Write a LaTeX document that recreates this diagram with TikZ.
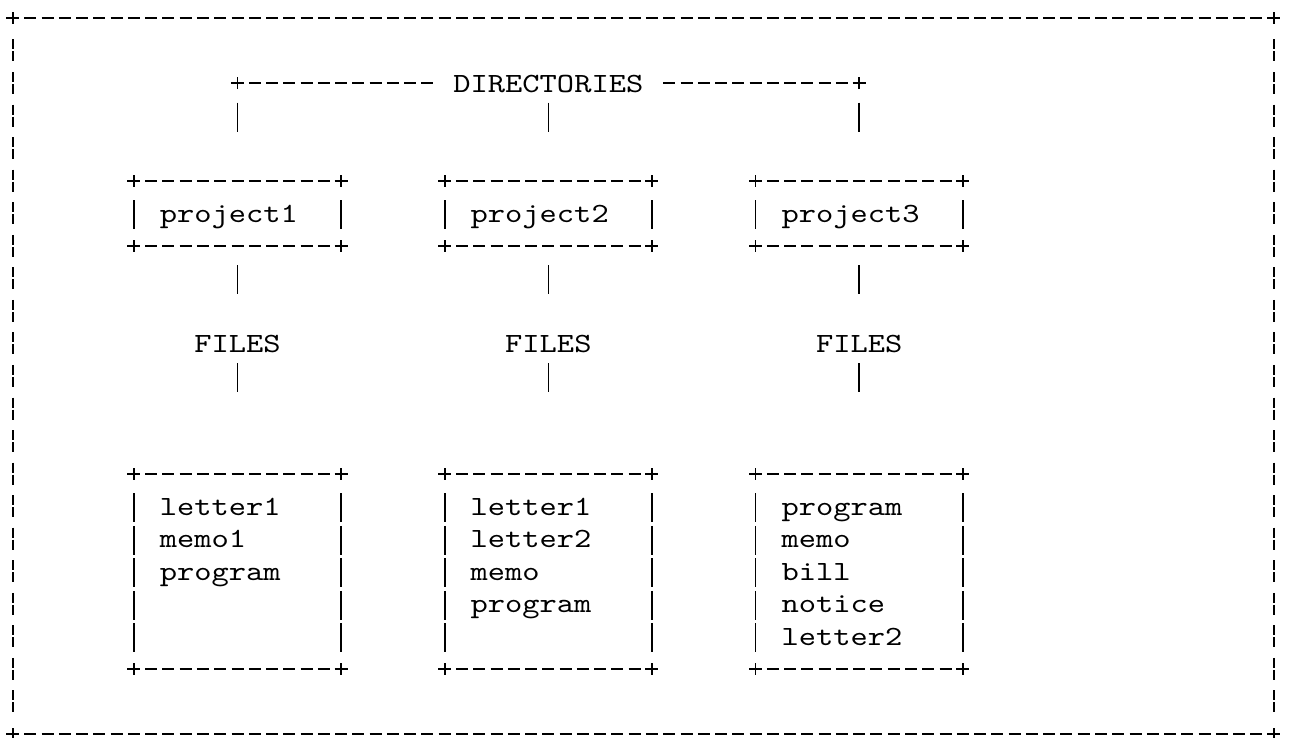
\documentclass[tikz,border=0pt]{standalone}
\usepackage{fontspec}
\setmonofont{lmmono10-regular.otf}[FakeStretch=1.183]
\tikzset{
  ascii/.style={font=\ttfamily\fontsize{13.9pt}{16.275pt}\selectfont, inner sep=0pt, outer sep=0pt, text height=12.64pt, text depth=3.64pt},
  hyph/.style={line width=0.85pt, dash pattern=on 6pt off 2.635pt, dash phase=7.3175pt},
  bar/.style={line width=0.85pt, dash pattern=on 14.5pt off 1.775pt},
  brokenbar/.style={line width=0.85pt, dash pattern=on 5pt off 1pt on 5pt off 5.275pt},
  stem/.style={line width=0.85pt},
  frame/.style={rectangle, inner sep=0pt, outer sep=0pt, minimum width=103.62pt, minimum height=32.55pt},
  listframe/.style={frame, minimum height=97.65pt},
  pageframe/.style={frame, minimum width=630.355pt, minimum height=358.05pt},
  plus/.pic={\draw[line width=0.85pt] (-3.25pt,0pt) -- (3.25pt,0pt) (0pt,-3pt) -- (0pt,3pt);}
}
\newcommand\asciibox[2][bar]{%
  \draw[hyph,shorten <=4.3175pt,shorten >=4.3175pt] (#2.north west) -- (#2.north east);
  \draw[hyph,shorten <=4.3175pt,shorten >=4.3175pt] (#2.south west) -- (#2.south east);
  \draw[#1,shorten <=9.765pt,shorten >=8.3pt] (#2.north west) -- (#2.south west);
  \draw[#1,shorten <=9.765pt,shorten >=8.3pt] (#2.north east) -- (#2.south east);
  \foreach \corner in {north west,north east,south west,south east}
    \pic at (#2.\corner) {plus};
}
\begin{document}
\begin{tikzpicture}[x=8.635pt,y=-16.275pt]
\useasboundingbox (-0.7527,-0.553) rectangle (73.944,22.12);
\node[pageframe] (page) at (36.5,11) {};
\draw[hyph,shorten <=4.3175pt,shorten >=4.3175pt] (page.north west) -- (page.north east);
\draw[hyph,shorten <=4.3175pt,shorten >=4.3175pt] (page.south west) -- (page.south east);
\draw[brokenbar,shorten <=10.75pt,shorten >=10.775pt] (page.north west) -- (page.south west);
\draw[brokenbar,shorten <=10.75pt,shorten >=10.775pt] (page.north east) -- (page.south east);
\foreach \corner in {north west,north east,south west,south east}
  \pic at (page.\corner) {plus};

\node[ascii] (dirs) at (31,2) {DIRECTORIES};
\coordinate (dl) at (13,2);
\coordinate (dr) at (49,2);
\draw[hyph,shorten <=4.3175pt,shorten >=8.635pt] (dl) -- (dirs.west);
\draw[hyph,shorten <=8.635pt,shorten >=4.3175pt] (dirs.east) -- (dr);
\pic at (dl) {plus};
\pic at (dr) {plus};

\node[frame] (p1) at (13,6) {};
\node[frame] (p2) at (31,6) {};
\node[frame] (p3) at (49,6) {};
\node[ascii,anchor=west] (n1) at (8.5,6) {project1};
\node[ascii,anchor=west] (n2) at (26.5,6) {project2};
\node[ascii,anchor=west] (n3) at (44.5,6) {project3};
\asciibox{p1}
\asciibox{p2}
\asciibox{p3}

\draw[stem,shorten <=9.765pt,shorten >=24.575pt] (dl) -- (p1.north);
\draw[stem,shorten <=1.6275pt,shorten >=24.575pt] (dirs.south) -- (p2.north);
\draw[stem,shorten <=9.765pt,shorten >=24.575pt] (dr) -- (p3.north);

\node[ascii] (f1) at (13,10) {FILES};
\node[ascii] (f2) at (31,10) {FILES};
\node[ascii] (f3) at (49,10) {FILES};
\foreach \i in {1,2,3} {
  \draw[stem,shorten <=9.765pt,shorten >=16.44pt] (p\i.south) -- (f\i.north);
}

\node[listframe] (b1) at (13,17) {};
\node[listframe] (b2) at (31,17) {};
\node[listframe] (b3) at (49,17) {};
\asciibox{b1}
\asciibox{b2}
\asciibox{b3}
\foreach \i in {1,2,3} {
  \draw[stem,shorten <=1.6275pt,shorten >=40.85pt] (f\i.south) -- (b\i.north);
}

\foreach \f [count=\k] in {letter1,memo1,program}
  \node[ascii,anchor=west] (l1-\k) at (8.5,14+\k) {\f};
\foreach \f [count=\k] in {letter1,letter2,memo,program}
  \node[ascii,anchor=west] (l2-\k) at (26.5,14+\k) {\f};
\foreach \f [count=\k] in {program,memo,bill,notice,letter2}
  \node[ascii,anchor=west] (l3-\k) at (44.5,14+\k) {\f};
\end{tikzpicture}
\end{document}
